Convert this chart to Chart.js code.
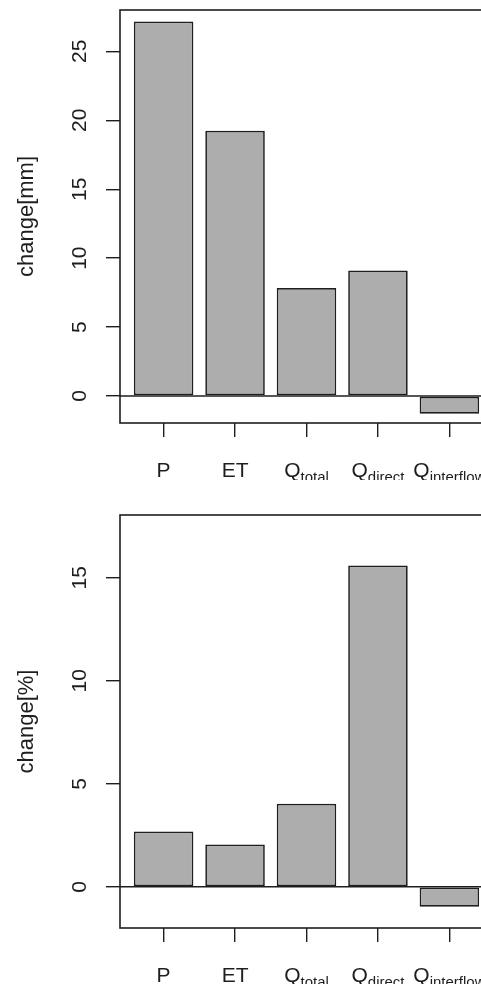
<!DOCTYPE html>
<html>
<head>
<meta charset="utf-8">
<script src="https://cdn.jsdelivr.net/npm/chart.js@4.4.1/dist/chart.umd.min.js"></script>
<style>
  html, body { margin: 0; padding: 0; background: #fff; overflow: hidden; }
  #wrap { width: 481px; height: 984px; overflow: hidden; position: relative; }
  canvas { position: absolute; left: 0; }
</style>
</head>
<body>
<div id="wrap">
  <canvas id="mmChart" width="500" height="480" style="top:0"></canvas>
  <canvas id="pctChart" width="500" height="504" style="top:480px"></canvas>
</div>
<script>
const labelMain = ["P", "ET", "Q", "Q", "Q"];
const labelSub = ["", "", "total", "direct", "interflow"];
const mmChange = [27.16, 19.24, 7.83, 9.11, -1.28];
const pctChange = [2.68, 2.05, 4.03, 15.60, -0.97];
const mmTicks = [0, 5, 10, 15, 20, 25];
const pctTicks = [0, 5, 10, 15];

const INK = "#1e1e1e";
const FONT = "'Liberation Sans', Arial, sans-serif";

// same layout as R barplot: width 1, space 0.2
const barMid = labelMain.map((_, i) => 0.7 + 1.2 * i);

const rFrame = {
  id: "rFrame",
  afterDraw(chart) {
    const { ctx, chartArea: a, scales: { x, y } } = chart;
    ctx.save();
    ctx.strokeStyle = INK;
    ctx.lineWidth = 1.6;
    ctx.strokeRect(a.left, a.top, a.right - a.left, a.bottom - a.top);

    const y0 = y.getPixelForValue(0);
    ctx.lineWidth = 1.4;
    ctx.beginPath();
    ctx.moveTo(a.left, y0);
    ctx.lineTo(a.right, y0);
    ctx.stroke();

    // y tick labels, parallel to the axis
    ctx.fillStyle = INK;
    ctx.font = "21px " + FONT;
    ctx.textAlign = "center";
    ctx.textBaseline = "middle";
    y.ticks.forEach(t => {
      ctx.save();
      ctx.translate(80, y.getPixelForValue(t.value));
      ctx.rotate(-Math.PI / 2);
      ctx.fillText(String(t.value), 0, 0);
      ctx.restore();
    });

    // category labels with subscripts
    const base = a.bottom + 54;
    ctx.textAlign = "left";
    ctx.textBaseline = "alphabetic";
    x.ticks.forEach((t, i) => {
      ctx.font = "21px " + FONT;
      const w1 = ctx.measureText(labelMain[i]).width;
      ctx.font = "15px " + FONT;
      const w2 = ctx.measureText(labelSub[i]).width;
      const left = x.getPixelForValue(t.value) - (w1 + w2) / 2;
      ctx.font = "21px " + FONT;
      ctx.fillText(labelMain[i], left, base);
      ctx.font = "15px " + FONT;
      ctx.fillText(labelSub[i], left + w1, base + 5);
    });
    ctx.restore();
  }
};

function makeChart(id, values, ticks, yMin, yMax, padTop, xHeight, title) {
  const ctx = document.getElementById(id).getContext("2d");
  return new Chart(ctx, {
    type: "bar",
    data: {
      datasets: [{
        data: values.map((v, i) => ({ x: barMid[i], y: v })),
        backgroundColor: "#adadad",
        borderColor: INK,
        borderWidth: 1.7,
        borderSkipped: false,
        categoryPercentage: 1,
        barPercentage: 1 / 1.2
      }]
    },
    options: {
      responsive: false,
      animation: false,
      devicePixelRatio: 1,
      layout: { padding: { top: padTop, right: 7, left: 0, bottom: 0 } },
      plugins: { legend: { display: false }, tooltip: { enabled: false } },
      scales: {
        x: {
          type: "linear",
          offset: false,
          min: -0.032,
          max: 6.232,
          afterBuildTicks: s => { s.ticks = barMid.map(v => ({ value: v })); },
          afterFit: s => { s.height = xHeight; },
          ticks: { display: false },
          border: { display: false },
          grid: { offset: false, drawOnChartArea: false, drawTicks: true, tickLength: 14, color: INK, lineWidth: 1.4 }
        },
        y: {
          min: yMin,
          max: yMax,
          afterBuildTicks: s => { s.ticks = ticks.map(v => ({ value: v })); },
          afterFit: s => { s.width = 120; },
          ticks: { display: false },
          border: { display: false },
          grid: { drawOnChartArea: false, drawTicks: true, tickLength: 14, color: INK, lineWidth: 1.4 },
          title: {
            display: true,
            text: title,
            color: INK,
            font: { family: FONT, size: 22 },
            padding: { top: 13.5, bottom: 0 }
          }
        }
      }
    },
    plugins: [rFrame]
  });
}

makeChart("mmChart", mmChange, mmTicks, -1.96, 28.0, 10, 57, "change[mm]");
makeChart("pctChart", pctChange, pctTicks, -2.0, 18.05, 35, 56, "change[%]");
</script>
</body>
</html>
